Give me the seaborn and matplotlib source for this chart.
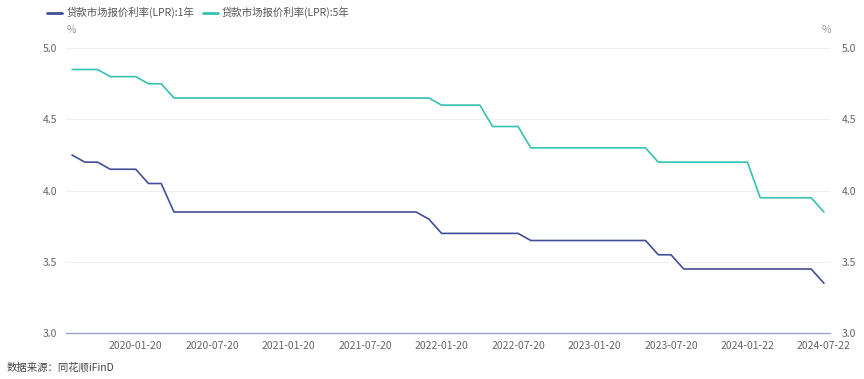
import matplotlib
matplotlib.use("Agg")
import matplotlib.pyplot as plt
import pandas as pd
import seaborn as sns

# LPR monthly quotes, 2019-08 .. 2024-07
months = pd.period_range("2019-08", "2024-07", freq="M").astype(str).tolist()
lpr_1y = [4.25, 4.20, 4.20, 4.15, 4.15,
          4.15, 4.05, 4.05, 3.85, 3.85, 3.85, 3.85, 3.85, 3.85, 3.85, 3.85, 3.85,
          3.85, 3.85, 3.85, 3.85, 3.85, 3.85, 3.85, 3.85, 3.85, 3.85, 3.85, 3.80,
          3.70, 3.70, 3.70, 3.70, 3.70, 3.70, 3.70, 3.65, 3.65, 3.65, 3.65, 3.65,
          3.65, 3.65, 3.65, 3.65, 3.65, 3.55, 3.55, 3.45, 3.45, 3.45, 3.45, 3.45,
          3.45, 3.45, 3.45, 3.45, 3.45, 3.45, 3.35]
lpr_5y = [4.85, 4.85, 4.85, 4.80, 4.80,
          4.80, 4.75, 4.75, 4.65, 4.65, 4.65, 4.65, 4.65, 4.65, 4.65, 4.65, 4.65,
          4.65, 4.65, 4.65, 4.65, 4.65, 4.65, 4.65, 4.65, 4.65, 4.65, 4.65, 4.65,
          4.60, 4.60, 4.60, 4.60, 4.45, 4.45, 4.45, 4.30, 4.30, 4.30, 4.30, 4.30,
          4.30, 4.30, 4.30, 4.30, 4.30, 4.20, 4.20, 4.20, 4.20, 4.20, 4.20, 4.20,
          4.20, 3.95, 3.95, 3.95, 3.95, 3.95, 3.85]
series_names = ["贷款市场报价利率(LPR):1年", "贷款市场报价利率(LPR):5年"]
colors = ["#434e98", "#35c2b0"]
tick_idx = [5, 11, 17, 23, 29, 35, 41, 47, 53, 59]
tick_labels = ["2020-01-20", "2020-07-20", "2021-01-20", "2021-07-20", "2022-01-20",
               "2022-07-20", "2023-01-20", "2023-07-20", "2024-01-22", "2024-07-22"]
y_ticks = [3.0, 3.5, 4.0, 4.5, 5.0]

df = pd.DataFrame({
    "idx": list(range(len(months))) * 2,
    "rate": lpr_1y + lpr_5y,
    "series": [series_names[0]] * len(months) + [series_names[1]] * len(months),
})

sns.set_theme(style="white")
plt.rcParams["font.family"] = ["Noto Sans CJK SC", "DejaVu Sans"]

fig = plt.figure(figsize=(8.64, 3.79), dpi=100)
ax = fig.add_axes([0.076, 0.121, 0.885, 0.752])
sns.lineplot(data=df, x="idx", y="rate", hue="series", palette=colors,
             linewidth=1.2, ax=ax, legend=False)

tick_color = "#666666"
ax.set_xlim(-0.5, len(months) - 0.5)
ax.set_ylim(3.0, 5.0)
ax.set_yticks(y_ticks)
ax.set_yticklabels([f"{v:.1f}" for v in y_ticks])
ax.set_xticks(tick_idx)
ax.set_xticklabels(tick_labels)
ax.set_xlabel("")
ax.set_ylabel("")
ax.tick_params(axis="both", length=0, labelsize=7.5, labelcolor=tick_color, pad=6)
ax.grid(axis="y", color="#eeeeee", linewidth=0.8)
for s in ["top", "left", "right"]:
    ax.spines[s].set_visible(False)
ax.spines["bottom"].set_color("#9da4c8")
ax.spines["bottom"].set_linewidth(1.0)

ax2 = ax.twinx()
ax2.set_ylim(3.0, 5.0)
ax2.set_yticks(y_ticks)
ax2.set_yticklabels([f"{v:.1f}" for v in y_ticks])
ax2.tick_params(axis="y", length=0, labelsize=7.5, labelcolor=tick_color, pad=8)
for s in ax2.spines.values():
    s.set_visible(False)
ax2.grid(False)

fig.text(0.077, 0.92, "%", fontsize=7.5, color="#999999", ha="left", va="center")
fig.text(0.962, 0.92, "%", fontsize=7.5, color="#999999", ha="right", va="center")

handles = [plt.Line2D([], [], color=c, linewidth=2) for c in colors]
fig.legend(handles, series_names, loc="center left", bbox_to_anchor=(0.044, 0.966),
           ncol=2, frameon=False, fontsize=7.5, handlelength=1.4, handletextpad=0.4,
           columnspacing=0.9, labelcolor="#555555")

fig.text(0.008, 0.03, "数据来源：同花顺iFinD", fontsize=7.5, color="#444444",
         ha="left", va="center")

fig.savefig("out.png", dpi=100)
